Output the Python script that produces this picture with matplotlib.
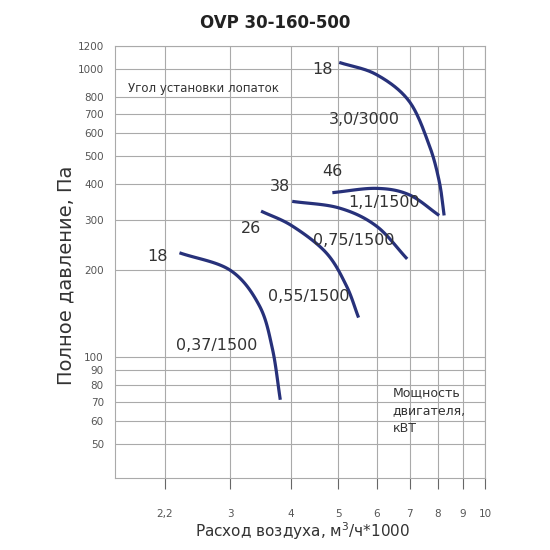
import matplotlib
matplotlib.use("Agg")
import matplotlib.pyplot as plt
import numpy as np
from matplotlib.ticker import FixedLocator, NullLocator

curve_037_x = [2.36, 3.0, 3.44, 3.66, 3.80]
curve_037_y = [230, 200, 151, 107, 71]
curve_055_x = [3.47, 4.02, 4.72, 5.19, 5.50]
curve_055_y = [321, 285, 230, 177, 137]
curve_075_x = [4.02, 5.02, 5.98, 6.92]
curve_075_y = [347, 329, 285, 219]
curve_11_x = [4.86, 5.98, 6.98, 8.05]
curve_11_y = [372, 385, 366, 310]
curve_30_x = [5.02, 5.98, 6.98, 7.67, 8.05, 8.24]
curve_30_y = [1054, 957, 774, 547, 408, 310]

xticks = [2.2, 3, 4, 5, 6, 7, 8, 9, 10]
xticklabels = ["2,2", "3", "4", "5", "6", "7", "8", "9", "10"]
yticks = [50, 60, 70, 80, 90, 100, 200, 300, 400, 500, 600, 700, 800, 1000, 1200]

fig = plt.figure(figsize=(5.5, 5.5), dpi=100)
ax = fig.add_axes([0.209, 0.131, 0.673, 0.785])
ax.set_xscale("log"); ax.set_yscale("log")
ax.set_xlim(1.74, 10); ax.set_ylim(38, 1200)

color = "#27317a"
def smooth(xs, ys, n=30):
    P = np.column_stack([np.log(xs), np.log(ys)])
    P = np.vstack([2 * P[0] - P[1], P, 2 * P[-1] - P[-2]])
    out = []
    for i in range(1, len(P) - 2):
        p0, p1, p2, p3 = P[i - 1], P[i], P[i + 1], P[i + 2]
        for t in np.linspace(0, 1, n, endpoint=False):
            out.append(0.5 * (2 * p1 + (-p0 + p2) * t + (2 * p0 - 5 * p1 + 4 * p2 - p3) * t**2
                              + (-p0 + 3 * p1 - 3 * p2 + p3) * t**3))
    out.append(P[-2])
    out = np.exp(np.array(out))
    return out[:, 0], out[:, 1]
for xs, ys in [(curve_037_x, curve_037_y), (curve_055_x, curve_055_y), (curve_075_x, curve_075_y),
               (curve_11_x, curve_11_y), (curve_30_x, curve_30_y)]:
    sx, sy = smooth(xs, ys)
    ax.plot(sx, sy, color=color, lw=2.3, solid_capstyle="butt")

ax.xaxis.set_major_locator(FixedLocator(xticks)); ax.xaxis.set_minor_locator(NullLocator())
ax.set_xticklabels(xticklabels)
ax.yaxis.set_major_locator(FixedLocator(yticks)); ax.yaxis.set_minor_locator(NullLocator())
ax.set_yticklabels([str(v) for v in yticks])
ax.grid(True, color="#aaaaaa", lw=0.8)
for s in ax.spines.values():
    s.set_color("#aaaaaa"); s.set_linewidth(0.8)
ax.tick_params(axis="x", length=8, width=0.8, color="#666666", labelsize=7.5, labelcolor="#555555", pad=14)
ax.tick_params(axis="y", length=0, labelsize=7.5, labelcolor="#555555", pad=8)

fs = 11.5
tc = "#333333"
for x, y, s in [(4.63, 1000, "18"), (5.65, 668, "3,0/3000"), (4.86, 439, "46"), (6.2, 344, "1,1/1500"),
                (3.79, 390, "38"), (5.38, 254, "0,75/1500"), (3.31, 280, "26"), (4.35, 162, "0,55/1500"),
                (2.13, 224, "18"), (2.82, 110, "0,37/1500")]:
    ax.text(x, y, s, fontsize=fs, color=tc, ha="center", va="center")
ax.text(0.035, 0.902, "Угол установки лопаток", transform=ax.transAxes, fontsize=8.5, color=tc, va="center")
ax.text(0.75, 0.1, "Мощность\nдвигателя,\nкВТ", transform=ax.transAxes, fontsize=9, color=tc,
        va="bottom", linespacing=1.5)
fig.text(0.5, 0.958, "OVP 30-160-500", ha="center", va="center", fontsize=12, fontweight="bold", color="#222222")
fig.text(0.55, 0.035, "Расход воздуха, м$^3$/ч*1000", ha="center", va="center", fontsize=11, color="#333333")
fig.text(0.12, 0.5, "Полное давление, Па", rotation=90, ha="center", va="center", fontsize=14, color="#333333")
fig.savefig("out.png", dpi=100)
